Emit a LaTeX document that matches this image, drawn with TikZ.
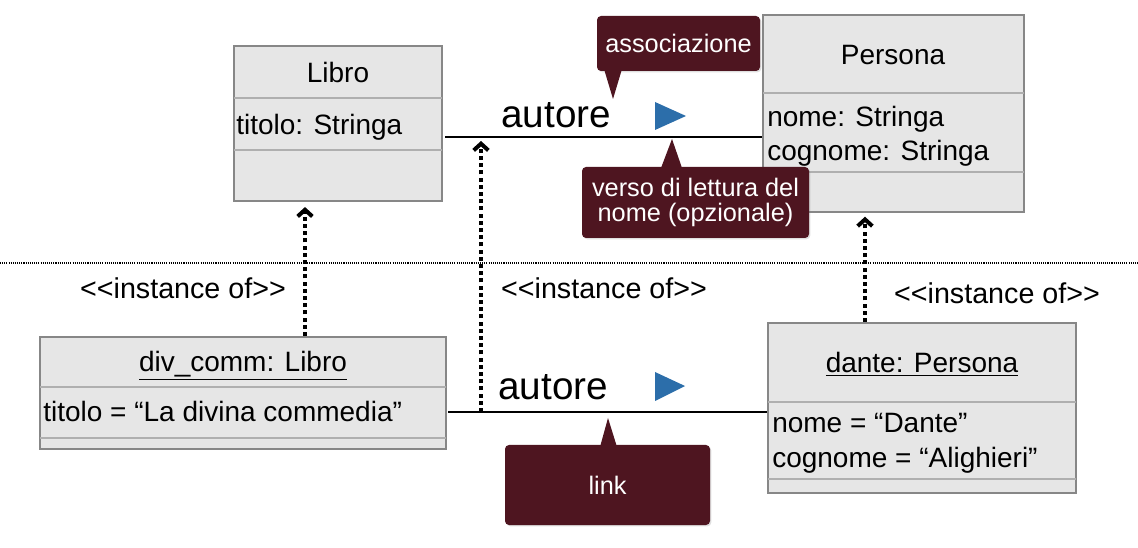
\documentclass[tikz,border=0pt]{standalone}
\usepackage{fontspec}
\setmainfont{Liberation Sans}
\usetikzlibrary{arrows.meta,positioning,shadows}

\definecolor{boxfill}{RGB}{230,230,230}
\definecolor{boxline}{RGB}{135,135,135}
\definecolor{sepgray}{RGB}{175,175,175}
\definecolor{callred}{RGB}{78,21,32}
\definecolor{dirblue}{RGB}{44,110,170}

\newcommand{\umlfont}{\fontsize{21}{25}\selectfont}
\newcommand{\stereofont}{\fontsize{21.5}{25}\selectfont}
\newcommand{\rolefont}{\fontsize{29}{34}\selectfont}
\newcommand{\notefont}{\fontsize{19}{19}\selectfont}

\tikzset{
  umlbox/.style 2 args={draw=boxline, fill=boxfill, line width=1.1pt, inner sep=0pt,
    minimum width=#1*0.75pt, minimum height=#2*0.75pt},
  sepline/.style={draw=sepgray, line width=0.9pt},
  txt/.style={inner sep=0pt, font=\umlfont},
  stereotxt/.style={inner sep=0pt, font=\stereofont},
  roletxt/.style={inner sep=0pt, font=\rolefont},
  callout/.style 2 args={fill=callred, rounded corners=3pt, text=white, font=\notefont,
    inner sep=0pt, align=center, minimum width=#1*0.75pt, minimum height=#2*0.75pt,
    drop shadow={shadow xshift=1pt, shadow yshift=-1pt, opacity=0.25}},
  assocline/.style={line width=1.2pt},
  inst/.style={line width=3pt, dash pattern=on 3pt off 2.4pt,
    -{Straight Barb[length=5pt,width=11pt]}},
  divider/.style={line width=0.8pt, dash pattern=on 0.8pt off 0.8pt}
}

\begin{document}
\begin{tikzpicture}[x=0.75pt, y=-0.75pt]
\useasboundingbox (0,0) rectangle (1138,548);

% classi
\node[umlbox={208}{155}] (libro) at (338,123.5) {};
\draw[sepline] (234,98) -- (442,98);
\draw[sepline] (234,150) -- (442,150);
\node[txt, anchor=base] (libroname) at (338,83) {Libro};
\node[txt, anchor=base west] (librotitolo) at (236,135) {titolo: Stringa};

\node[umlbox={261}{197}] (persona) at (893.5,113.5) {};
\draw[sepline] (763,93) -- (1024,93);
\draw[sepline] (763,172) -- (1024,172);
\node[txt, anchor=base] (personaname) at (893,65) {Persona};
\node[txt, anchor=base west] (personanome) at (767,127) {nome: Stringa};
\node[txt, anchor=base west] (personacognome) at (767,161) {cognome: Stringa};

% associazione
\coordinate (assocL) at (445,137);
\coordinate (assocR) at (762,137);
\draw[assocline] (assocL) -- (assocR);
\node[roletxt, anchor=base west] (assocname) at (501,128) {autore};
\fill[dirblue] (655,102) -- (686,116) -- (655,130) -- cycle;

\node[callout={163}{55}] (assocnote) at (678.5,43.5) {associazione};
\coordinate (assoctip) at (613,99);
\fill[callred] (604,69) -- (assoctip) -- (622,69) -- cycle;

\node[callout={227}{71}] (versonote) at (695.5,202.5) {verso di lettura del\\nome (opzionale)};
\coordinate (versotip) at (672,139);
\fill[callred] (661,168) -- (versotip) -- (682,168) -- cycle;

\draw[divider] (0,263) -- (1138,263);

% oggetti
\node[umlbox={406}{112}] (divcomm) at (243,393) {};
\draw[sepline] (40,387) -- (446,387);
\draw[sepline] (40,438) -- (446,438);
\node[txt, anchor=base] (divcommname) at (243,372) {\underline{div\_comm: Libro}};
\node[txt, anchor=base west] (divcommtitolo) at (43,422) {titolo = “La divina commedia”};

\node[umlbox={308}{170}] (dante) at (922,408) {};
\draw[sepline] (768,402) -- (1076,402);
\draw[sepline] (768,479) -- (1076,479);
\node[txt, anchor=base] (dantename) at (922,373) {\underline{dante: Persona}};
\node[txt, anchor=base west] (dantenome) at (772,433) {nome = “Dante”};
\node[txt, anchor=base west] (dantecognome) at (772,467) {cognome = “Alighieri”};

% link
\coordinate (linkL) at (448,412);
\coordinate (linkR) at (767,412);
\draw[assocline] (linkL) -- (linkR);
\node[roletxt, anchor=base west] (linkname) at (498,400) {autore};
\fill[dirblue] (655,372) -- (685,386) -- (655,401) -- cycle;

\node[callout={205}{80}] (linknote) at (607.5,485) {link};
\coordinate (linktip) at (608,418);
\fill[callred] (600,447) -- (linktip) -- (617,447) -- cycle;

% instance of
\coordinate (inst1) at (305,336);
\coordinate (inst2) at (481,412);
\coordinate (inst3) at (865,322);
\draw[inst, shorten >=4pt] (inst1) -- (inst1 |- libro.south);
\draw[inst, shorten >=3pt] (inst2) -- (inst2 |- assocL);
\draw[inst, shorten >=3pt] (inst3) -- (inst3 |- persona.south);

\node[stereotxt, anchor=base] (inst1label) at (183,299) {<\kern0pt<instance of>\kern0pt>};
\node[stereotxt, anchor=base] (inst2label) at (604,299) {<\kern0pt<instance of>\kern0pt>};
\node[stereotxt, anchor=base] (inst3label) at (997,304) {<\kern0pt<instance of>\kern0pt>};
\end{tikzpicture}
\end{document}
